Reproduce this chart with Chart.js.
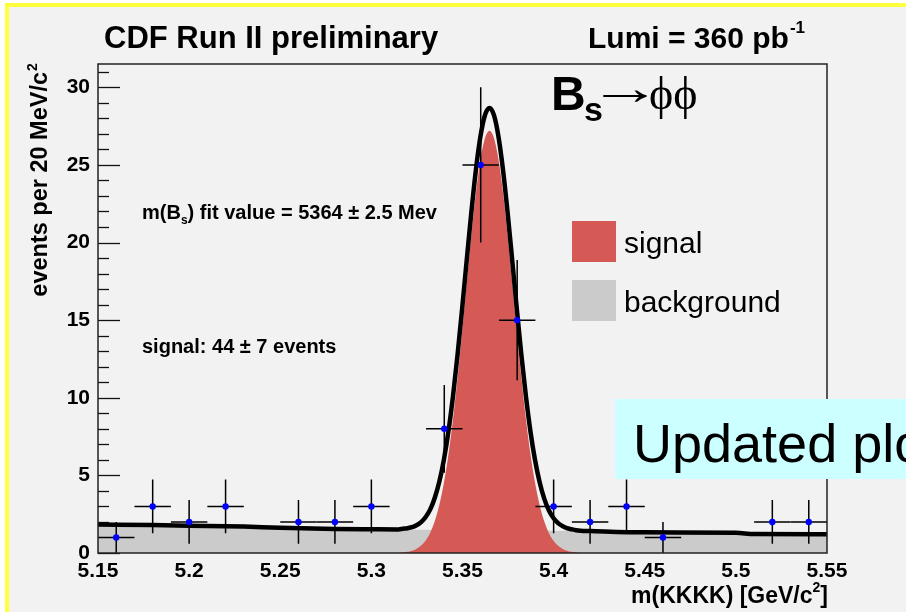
<!DOCTYPE html>
<html>
<head>
<meta charset="utf-8">
<script src="https://cdn.jsdelivr.net/npm/chart.js@4.4.1/dist/chart.umd.min.js"></script>
<style>
html, body { margin: 0; padding: 0; background: #fff; overflow: hidden; width: 906px; height: 612px; }
#wrap { position: relative; width: 906px; height: 612px; overflow: hidden; }
#c { position: absolute; left: 0; top: 0; }
#note {
  position: absolute; left: 615px; top: 399px; width: 340px; height: 80px;
  box-sizing: border-box; padding: 17px 0 0 18px;
  background: #ccffff; color: #000; white-space: nowrap;
  font: 54px "Liberation Sans", Arial, sans-serif; line-height: 1;
}
</style>
</head>
<body>
<div id="wrap">
  <canvas id="c" width="906" height="612"></canvas>
  <div id="note">Updated plot</div>
</div>
<script>
// ---- measured data: 20 MeV bins of m(KKKK) [GeV/c^2] (empty bins are not drawn)
const massBins    = [5.16, 5.18, 5.20, 5.22, 5.26, 5.28, 5.30, 5.34, 5.36, 5.38, 5.40, 5.42, 5.44, 5.46, 5.52, 5.54];
const eventCounts = [1,    3,    2,    3,    2,    2,    3,    8,    25,   15,   3,    2,    3,    1,    2,    2];
const countErrors = [1.0,  1.73, 1.41, 1.73, 1.41, 1.41, 1.73, 2.83, 5.0,  3.87, 1.73, 1.41, 1.73, 1.0,  1.41, 1.41];
const binHalfWidth = 0.01;

// ---- fit: total (signal + background), sampled along the curve
const fitMass = [
  5.15, 5.18, 5.20, 5.23, 5.25, 5.28, 5.30,
  5.3148, 5.3173, 5.3198, 5.3223, 5.3248, 5.3273, 5.3298, 5.3323, 5.3348, 5.3373,
  5.3398, 5.3423, 5.3448, 5.3473, 5.3498, 5.3523, 5.3548, 5.3573, 5.3598, 5.3623,
  5.3648,
  5.3673, 5.3698, 5.3723, 5.3748, 5.3773, 5.3798, 5.3823, 5.3848, 5.3873, 5.3898,
  5.3923, 5.3948, 5.3973, 5.3998, 5.4023, 5.4048, 5.4073, 5.4098, 5.4123, 5.4148,
  5.42, 5.45, 5.50, 5.51, 5.55
];
const fitTotal = [
  1.83, 1.80, 1.76, 1.70, 1.62, 1.55, 1.53,
  1.52, 1.56, 1.60, 1.66, 1.79, 1.99, 2.32, 2.81, 3.56, 4.60,
  6.02, 7.85, 10.12, 12.78, 15.74, 18.85, 21.89, 24.63, 26.80, 28.20,
  28.67,
  28.19, 26.78, 24.61, 21.87, 18.83, 15.72, 12.76, 10.09, 7.82, 5.99,
  4.57, 3.52, 2.77, 2.27, 1.94, 1.74, 1.60, 1.53, 1.47, 1.44,
  1.42, 1.33, 1.30, 1.22, 1.20
];

// ---- fit: background component
const bkgMass  = [5.15, 5.18, 5.20, 5.23, 5.25, 5.28, 5.30, 5.35, 5.40, 5.42, 5.45, 5.50, 5.51, 5.55];
const bkgLevel = [1.83, 1.80, 1.76, 1.70, 1.62, 1.55, 1.52, 1.48, 1.44, 1.42, 1.33, 1.30, 1.22, 1.20];

// ---- fit: signal component
const sigMass = [
  5.3148, 5.3173, 5.3198, 5.3223, 5.3248, 5.3273, 5.3298, 5.3323, 5.3348, 5.3373,
  5.3398, 5.3423, 5.3448, 5.3473, 5.3498, 5.3523, 5.3548, 5.3573, 5.3598, 5.3623,
  5.3648,
  5.3673, 5.3698, 5.3723, 5.3748, 5.3773, 5.3798, 5.3823, 5.3848, 5.3873, 5.3898,
  5.3923, 5.3948, 5.3973, 5.3998, 5.4023, 5.4048, 5.4073, 5.4098, 5.4123, 5.4148
];
const sigLevel = [
  0, 0.04, 0.08, 0.15, 0.28, 0.48, 0.81, 1.31, 2.06, 3.11,
  4.53, 6.36, 8.63, 11.30, 14.26, 17.37, 20.41, 23.15, 25.32, 26.72,
  27.2,
  26.72, 25.32, 23.15, 20.41, 17.37, 14.26, 11.30, 8.63, 6.36, 4.53,
  3.11, 2.06, 1.31, 0.81, 0.48, 0.28, 0.15, 0.08, 0.04, 0
];

const xTickLabels = ['5.15', '5.2', '5.25', '5.3', '5.35', '5.4', '5.45', '5.5', '5.55'];
const yTickLabels = ['0', '5', '10', '15', '20', '25', '30'];

const SANS = '"Liberation Sans", Arial, Helvetica, sans-serif';
const SERIF = '"Liberation Serif", "DejaVu Serif", serif';
const RED = '#d55a56';
const GREY = '#cbcbcb';

const toXY = (xs, ys) => xs.map((x, i) => ({ x: x, y: ys[i] }));

// page: slide background with yellow edge
const pagePlugin = {
  id: 'page',
  beforeDraw(chart) {
    const ctx = chart.ctx;
    ctx.save();
    ctx.fillStyle = '#ffffff';
    ctx.fillRect(0, 0, chart.width, chart.height);
    ctx.fillStyle = '#f2f2f2';
    ctx.fillRect(9, 7, chart.width - 9, chart.height - 7);
    ctx.fillStyle = '#ffff3c';
    ctx.fillRect(5, 3, chart.width - 5, 4);
    ctx.fillRect(5, 3, 4, chart.height - 3);
    ctx.restore();
  }
};

// inward y-axis tick marks (major every 5, minor every 1), drawn under the fills
const yTickMarks = {
  id: 'yTickMarks',
  beforeDatasetsDraw(chart) {
    const ctx = chart.ctx, y = chart.scales.y, a = chart.chartArea;
    ctx.save();
    ctx.strokeStyle = '#111';
    ctx.lineWidth = 1.3;
    for (let v = 0; v <= 31; v++) {
      const py = Math.round(y.getPixelForValue(v)) + 0.5;
      const len = v % 5 === 0 ? 22 : 11;
      ctx.beginPath();
      ctx.moveTo(a.left, py);
      ctx.lineTo(a.left + len, py);
      ctx.stroke();
    }
    ctx.restore();
  }
};

// error bars for the data points, drawn just before the points themselves
const errorBars = {
  id: 'errorBars',
  beforeDatasetDraw(chart, args) {
    if (args.index !== 0) return;
    const ctx = chart.ctx, xs = chart.scales.x, ys = chart.scales.y;
    ctx.save();
    ctx.strokeStyle = '#000';
    ctx.lineWidth = 1.5;
    massBins.forEach((m, i) => {
      const px = xs.getPixelForValue(m);
      const py = ys.getPixelForValue(eventCounts[i]);
      const top = ys.getPixelForValue(eventCounts[i] + countErrors[i]);
      const bot = ys.getPixelForValue(Math.max(0, eventCounts[i] - countErrors[i]));
      const l = xs.getPixelForValue(m - binHalfWidth);
      const r = xs.getPixelForValue(m + binHalfWidth);
      ctx.beginPath();
      ctx.moveTo(px, top); ctx.lineTo(px, bot);
      ctx.moveTo(l, py); ctx.lineTo(r, py);
      ctx.stroke();
    });
    ctx.restore();
  }
};

// plot frame
const framePlugin = {
  id: 'frame',
  afterDatasetsDraw(chart) {
    const ctx = chart.ctx, a = chart.chartArea;
    ctx.save();
    ctx.strokeStyle = '#222';
    ctx.lineWidth = 1.5;
    ctx.strokeRect(a.left, a.top, a.right - a.left, a.bottom - a.top);
    ctx.restore();
  }
};

// titles, axis titles, annotations and legend
const textPlugin = {
  id: 'texts',
  afterDraw(chart) {
    const ctx = chart.ctx, a = chart.chartArea;
    ctx.save();
    ctx.fillStyle = '#000';
    ctx.textBaseline = 'alphabetic';
    ctx.textAlign = 'left';

    // header line
    ctx.font = 'bold 31px ' + SANS;
    ctx.fillText('CDF Run II preliminary', 104, 48);
    ctx.font = 'bold 30px ' + SANS;
    const lumi = 'Lumi = 360 pb';
    ctx.fillText(lumi, 588, 48);
    const lw = ctx.measureText(lumi).width;
    ctx.font = 'bold 17px ' + SANS;
    ctx.fillText('-1', 588 + lw + 1, 33);

    // y-axis title (rotated), with superscript
    ctx.save();
    ctx.translate(47, 72);
    ctx.rotate(-Math.PI / 2);
    ctx.textAlign = 'right';
    ctx.font = 'bold 23.5px ' + SANS;
    ctx.fillText('events per 20 MeV/c', 0, 0);
    ctx.textAlign = 'left';
    ctx.font = 'bold 14px ' + SANS;
    ctx.fillText('2', 1, -10);
    ctx.restore();

    // x-axis title, right-aligned to the frame
    ctx.font = 'bold 23px ' + SANS;
    const close = ']';
    const cw = ctx.measureText(close).width;
    ctx.font = 'bold 14px ' + SANS;
    const sw = ctx.measureText('2').width;
    const xr = a.right + 1;
    ctx.fillText('2', xr - cw - sw, 592);
    ctx.font = 'bold 23px ' + SANS;
    ctx.fillText(close, xr - cw, 603);
    ctx.textAlign = 'right';
    ctx.fillText('m(KKKK) [GeV/c', xr - cw - sw, 603);
    ctx.textAlign = 'left';

    // fit annotations
    ctx.font = 'bold 20px ' + SANS;
    let x = 142;
    ctx.fillText('m(B', x, 219);
    x += ctx.measureText('m(B').width;
    ctx.font = 'bold 12px ' + SANS;
    ctx.fillText('s', x, 224);
    x += ctx.measureText('s').width;
    ctx.font = 'bold 20px ' + SANS;
    ctx.fillText(') fit value = 5364 \u00b1 2.5 Mev', x, 219);
    ctx.fillText('signal: 44 \u00b1 7 events', 142, 353);

    // decay label: B_s -> phi phi (arrow stretched to a long thin arrow)
    ctx.font = 'bold 48px ' + SANS;
    ctx.fillText('B', 551, 110);
    ctx.font = 'bold 34px ' + SANS;
    ctx.fillText('s', 584, 121);
    ctx.font = '48px ' + SERIF;
    const am = ctx.measureText('\u2192');
    const glyphW = (am.actualBoundingBoxLeft + am.actualBoundingBoxRight) || am.width;
    const k = 46 / glyphW;
    ctx.save();
    ctx.translate(602 + am.actualBoundingBoxLeft * k, 104);
    ctx.scale(k, 1);
    ctx.fillText('\u2192', 0, 0);
    ctx.restore();
    ctx.font = '46px ' + SERIF;
    ctx.fillText('\u03d5\u03d5', 649, 109);

    // legend
    ctx.fillStyle = RED;
    ctx.fillRect(572, 221, 44, 41);
    ctx.fillStyle = GREY;
    ctx.fillRect(572, 280, 44, 41);
    ctx.fillStyle = '#000';
    ctx.font = '30px ' + SANS;
    ctx.fillText('signal', 624, 253);
    ctx.fillText('background', 624, 312);

    ctx.restore();
  }
};

new Chart(document.getElementById('c'), {
  type: 'scatter',
  data: {
    datasets: [
      {
        label: 'data',
        order: 0,
        data: toXY(massBins, eventCounts),
        showLine: false,
        pointRadius: 3.2,
        pointBackgroundColor: '#0000ff',
        pointBorderWidth: 0,
        pointBorderColor: 'rgba(0,0,0,0)'
      },
      {
        label: 'fit',
        order: 1,
        data: toXY(fitMass, fitTotal),
        showLine: true,
        pointRadius: 0,
        borderColor: '#000',
        borderWidth: 4.5,
        cubicInterpolationMode: 'monotone',
        fill: false
      },
      {
        label: 'signal',
        order: 2,
        data: toXY(sigMass, sigLevel),
        showLine: true,
        pointRadius: 0,
        borderWidth: 0,
        borderColor: 'rgba(0,0,0,0)',
        backgroundColor: RED,
        cubicInterpolationMode: 'monotone',
        fill: 'origin'
      },
      {
        label: 'background',
        order: 3,
        data: toXY(bkgMass, bkgLevel),
        showLine: true,
        pointRadius: 0,
        borderWidth: 0,
        borderColor: 'rgba(0,0,0,0)',
        backgroundColor: GREY,
        cubicInterpolationMode: 'monotone',
        fill: 'origin'
      }
    ]
  },
  options: {
    responsive: false,
    animation: false,
    devicePixelRatio: 1,
    events: [],
    layout: { padding: { left: 0, top: 64, right: 79, bottom: 0 } },
    plugins: { legend: { display: false }, tooltip: { enabled: false } },
    scales: {
      x: {
        type: 'linear',
        min: 5.15,
        max: 5.55,
        grid: { display: false, drawTicks: false },
        border: { display: false },
        ticks: {
          stepSize: 0.05,
          padding: 6,
          autoSkip: false,
          maxRotation: 0,
          color: '#000',
          font: { family: SANS, size: 21, weight: 'bold' },
          callback: (v, i) => xTickLabels[i]
        },
        afterFit: (s) => { s.height = 59; }
      },
      y: {
        min: 0,
        max: 31.5,
        grid: { display: false, drawTicks: false },
        border: { display: false },
        ticks: {
          stepSize: 5,
          includeBounds: false,
          padding: 8,
          color: '#000',
          font: { family: SANS, size: 21, weight: 'bold' },
          callback: (v, i) => yTickLabels[i]
        },
        afterFit: (s) => { s.width = 98; }
      }
    }
  },
  plugins: [pagePlugin, yTickMarks, errorBars, framePlugin, textPlugin]
});
</script>
</body>
</html>
